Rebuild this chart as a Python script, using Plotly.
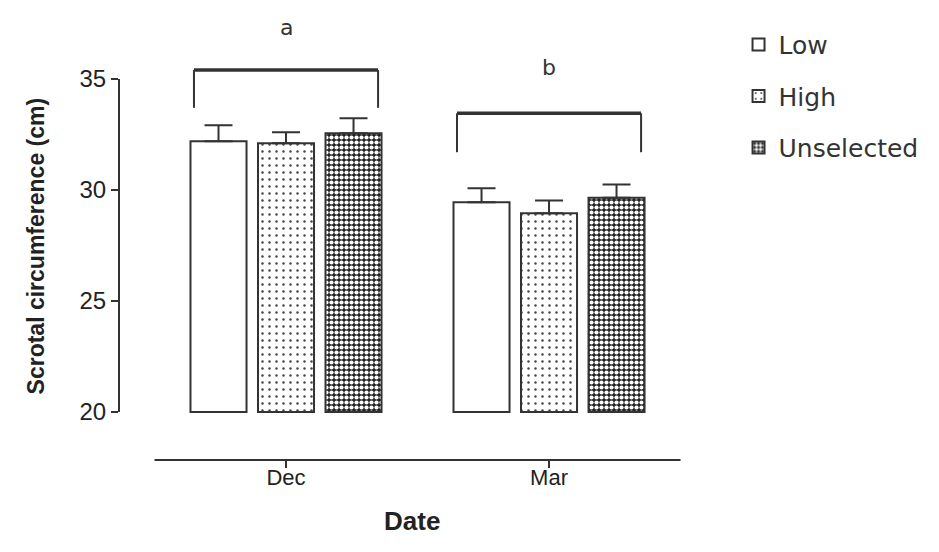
import plotly.graph_objects as go

dates = ["Dec", "Mar"]
groups = ["Low", "High", "Unselected"]
means = {
    "Low": [32.2, 29.45],
    "High": [32.1, 28.95],
    "Unselected": [32.55, 29.65],
}
sem = {
    "Low": [0.72, 0.63],
    "High": [0.5, 0.58],
    "Unselected": [0.68, 0.6],
}
sig_letters = ["a", "b"]
bracket_top = [35.4, 33.45]
bracket_drop = [1.7, 1.75]
letter_y = [37.3, 35.5]

INK = "#333333"
FONT = "Liberation Sans, Arial, sans-serif"

styles = {
    "Low": dict(color="white", pattern=dict(shape="")),
    "High": dict(color="white", pattern=dict(shape=".", fgcolor="#444444", bgcolor="white",
                                            size=7, solidity=0.1, fillmode="replace")),
    "Unselected": dict(color="#222222", pattern=dict(shape=".", fgcolor="white", bgcolor="#222222",
                                                     size=5, solidity=0.55, fillmode="replace")),
}

xs = list(range(len(dates)))
fig = go.Figure()
for i, g in enumerate(groups):
    st = styles[g]
    fig.add_trace(go.Bar(
        name=g, x=xs, y=[m - 20 for m in means[g]], base=20,
        marker=dict(color=st["color"], pattern=st["pattern"],
                    line=dict(color=INK, width=2)),
        error_y=dict(type="data", array=sem[g], symmetric=False,
                     arrayminus=[0] * len(dates), color=INK, thickness=2, width=14),
        legendgroup=g,
    ))

shapes = []
shapes.append(dict(type="line", xref="paper", yref="y", x0=0, x1=0, y0=20, y1=35,
                   line=dict(color=INK, width=2)))
shapes.append(dict(type="line", xref="x", yref="paper", x0=-0.5, x1=len(dates) - 0.5, y0=0, y1=0,
                   line=dict(color=INK, width=2)))
annotations = []
for i, (top, drop, let, ly) in enumerate(zip(bracket_top, bracket_drop, sig_letters, letter_y)):
    x0, x1 = i - 0.35, i + 0.35
    shapes.append(dict(type="line", xref="x", yref="y", x0=x0, x1=x1, y0=top, y1=top,
                       line=dict(color=INK, width=3.5)))
    shapes.append(dict(type="line", xref="x", yref="y", x0=x0, x1=x0, y0=top, y1=top - drop,
                       line=dict(color=INK, width=2)))
    shapes.append(dict(type="line", xref="x", yref="y", x0=x1, x1=x1, y0=top, y1=top - drop,
                       line=dict(color=INK, width=2)))
    annotations.append(dict(x=i, y=ly, xref="x", yref="y", text=let, showarrow=False,
                            font=dict(family="DejaVu Sans, sans-serif", size=22, color=INK)))

annotations.append(dict(text="<b>Scrotal circumference (cm)</b>", textangle=-90,
                        xref="paper", yref="y", x=-0.17, y=27.5, showarrow=False,
                        font=dict(family=FONT, size=23, color="#222222")))
annotations.append(dict(text="<b>Date</b>", xref="x", yref="paper", x=0.48, y=-0.175,
                        showarrow=False, font=dict(family=FONT, size=26, color="#222222")))

fig.update_layout(
    width=939, height=552,
    margin=dict(l=111, r=257, t=7, b=100),
    plot_bgcolor="white", paper_bgcolor="white",
    barmode="group", bargap=0.23, bargroupgap=0.17,
    shapes=shapes, annotations=annotations,
    font=dict(family=FONT, color=INK),
    legend=dict(x=1.085, y=0.985, xanchor="left", yanchor="top",
                font=dict(family="DejaVu Sans, sans-serif", size=25, color=INK),
                tracegroupgap=16, bgcolor="rgba(0,0,0,0)"),
    showlegend=True,
)
fig.update_xaxes(range=[-0.635, 1.536], tickvals=xs, ticktext=dates,
                 showline=False, showgrid=False, zeroline=False,
                 ticks="outside", ticklen=7, tickwidth=2, tickcolor=INK,
                 ticklabelstandoff=-9,
                 tickfont=dict(size=22, color="#222222"))
fig.update_yaxes(range=[17.84, 37.88], tickvals=[20, 25, 30, 35],
                 showline=False, showgrid=False, zeroline=False,
                 ticks="outside", ticklen=7, tickwidth=2, tickcolor=INK,
                 tickfont=dict(size=24, color="#222222"))

fig.write_html("out.html")
